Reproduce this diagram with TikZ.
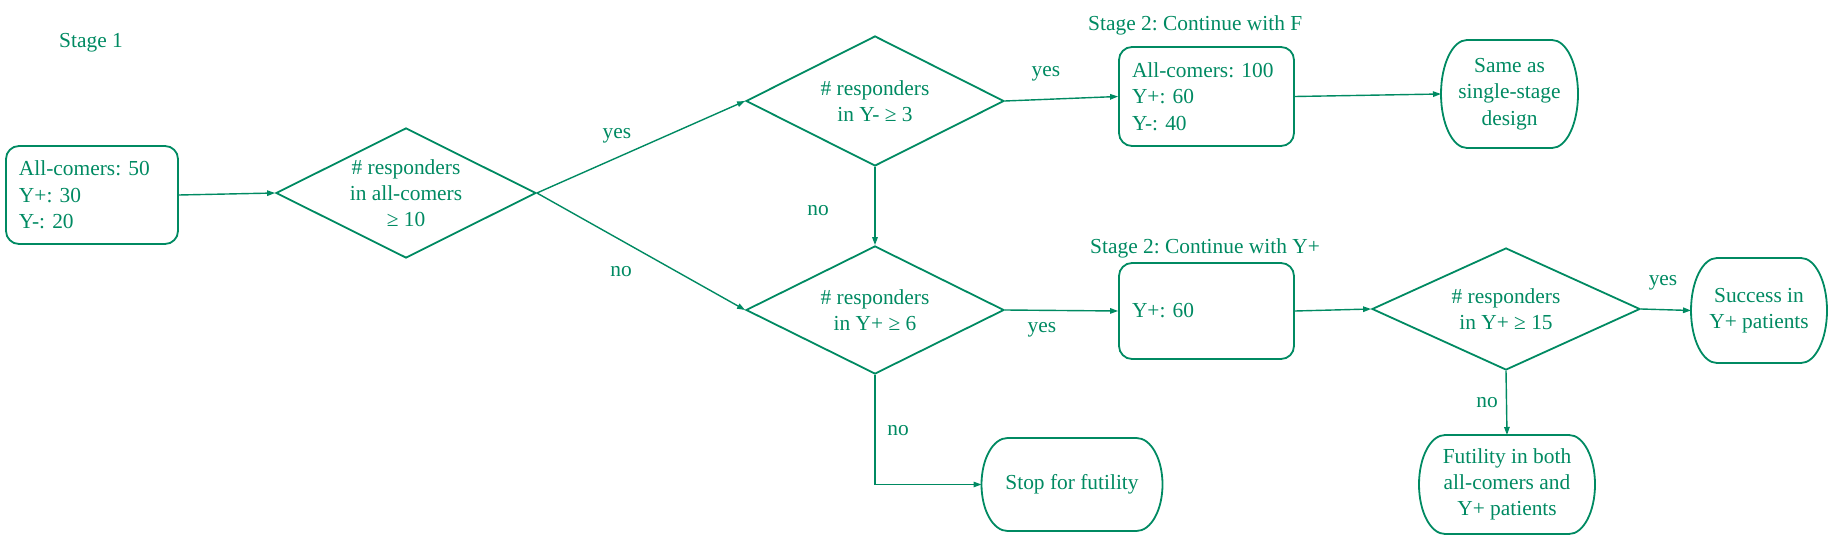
\documentclass[tikz,border=0pt]{standalone}
\usepackage{fontspec}
\setmainfont{Liberation Serif}
\frenchspacing
\usetikzlibrary{shapes.geometric,arrows.meta}
\definecolor{grn}{HTML}{008A62}
\newcommand\termline[2]{%
  \draw[shp] ([xshift=26bp]#1.north west) -- ([xshift=-26bp]#1.north east)
    arc[start angle=90,end angle=-90,x radius=26bp,y radius=#2]
    -- ([xshift=26bp]#1.south west)
    arc[start angle=270,end angle=90,x radius=26bp,y radius=#2] -- cycle;}
\begin{document}
\begin{tikzpicture}[x=1bp,y=-1bp,
  every node/.style={text=grn, font=\fontsize{21.4bp}{26.3bp}\selectfont},
  shp/.style={draw=grn, line width=1.8bp},
  box/.style={shp, rounded corners=13bp, align=left, inner xsep=13bp, inner ysep=0pt},
  dia/.style={shp, diamond, inner sep=0pt},
  dtxt/.style={align=center, inner sep=0pt},
  term/.style={align=center, inner sep=0pt, outer sep=0pt},
  lbl/.style={inner sep=0pt},
  conn/.style={draw=grn, line width=1.4bp, -{Triangle[length=8bp,width=5.5bp]}}]
\useasboundingbox (0,0) rectangle (1836,546);

% labels
\node[lbl] (s1) at (91,43) {Stage 1};
\node[lbl, anchor=west] (s2f) at (1088,25) {Stage 2: Continue with F};
\node[lbl, anchor=west] (s2y) at (1090,248) {Stage 2: Continue with Y+};

% boxes
\node[box, text width=146bp, minimum height=98bp] (b1) at (92,195) {All-comers: 50\\Y+: 30\\Y-: 20};
\node[box, text width=149bp, minimum height=99bp] (bf) at (1206.5,96.5) {All-comers: 100\\Y+: 60\\Y-: 40};
\node[box, text width=149bp, minimum height=96bp] (by) at (1206.5,311) {Y+: 60};

% diamonds
\node[dia, minimum width=260bp, minimum height=130bp] (d1) at (406,193) {};
\node[dtxt] (d1t) at (d1.center) {\# responders\\in all-comers\\≥ 10};
\node[dia, minimum width=258bp, minimum height=130bp] (d2) at (875,101) {};
\node[dtxt] (d2t) at (d2.center) {\# responders\\in Y- ≥ 3};
\node[dia, minimum width=258bp, minimum height=128bp] (d3) at (875,310) {};
\node[dtxt] (d3t) at (d3.center) {\# responders\\in Y+ ≥ 6};
\node[dia, minimum width=268bp, minimum height=122bp] (d4) at (1506,309) {};
\node[dtxt] (d4t) at (d4.center) {\# responders\\in Y+ ≥ 15};

% terminals
\node[term, minimum width=137bp, minimum height=108bp] (same) at (1509.5,94) {Same as\\single-stage\\design};
\termline{same}{54bp}
\node[term, minimum width=136bp, minimum height=105bp] (succ) at (1759,310.5) {Success in\\Y+ patients};
\termline{succ}{52.5bp}
\node[term, minimum width=176bp, minimum height=99bp] (fut) at (1507,484.5) {Futility in both\\all-comers and\\Y+ patients};
\termline{fut}{49.5bp}
\node[term, minimum width=181bp, minimum height=93bp] (stop) at (1072,484.5) {Stop for futility};
\termline{stop}{46.5bp}

% connectors
\draw[conn] (b1.east) -- (d1.west);
\draw[conn] (d1.east) -- (d2.west);
\draw[conn] (d1.east) -- (d3.west);
\draw[conn] (d2.south) -- (d3.north);
\draw[conn] (d2.east) -- (bf.west);
\draw[conn] (bf.east) -- (same.west);
\draw[conn] (d3.east) -- (by.west);
\draw[conn] (by.east) -- (d4.west);
\draw[conn] (d4.east) -- (succ.west);
\draw[conn] (d4.south) -- (fut.north);
\draw[conn] (d3.south) |- (stop.west);

% connector labels
\node[lbl] (l1) at (617,136) {yes};
\node[lbl] (l2) at (621,272) {no};
\node[lbl] (l3) at (818,211) {no};
\node[lbl] (l4) at (1046,74) {yes};
\node[lbl] (l5) at (1042,330) {yes};
\node[lbl] (l6) at (1663,283) {yes};
\node[lbl] (l7) at (1487,403) {no};
\node[lbl] (l8) at (898,431) {no};
\end{tikzpicture}
\end{document}
